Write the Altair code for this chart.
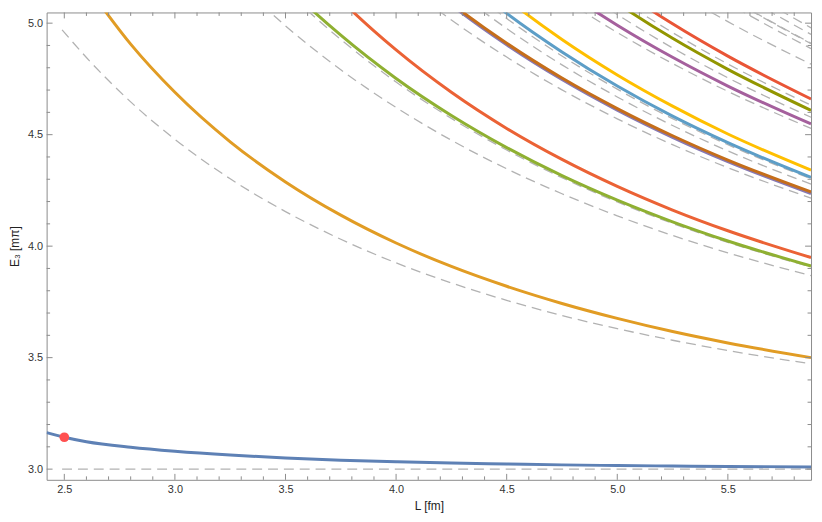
import altair as alt
import pandas as pd

# ---------------- data ----------------
L_ALL = [2.42, 2.5, 2.6, 2.8, 3.0, 3.25, 3.5, 3.75, 4.0, 4.25, 4.5, 4.75, 5.0, 5.25, 5.5, 5.876]

# interacting (solid) levels, each listed from its first L in L_ALL
S_GROUND = [3.164, 3.143, 3.123, 3.098, 3.080, 3.063, 3.050, 3.040, 3.033, 3.027, 3.023, 3.019, 3.016, 3.014, 3.012, 3.010]
S_ORANGE = [5.169, 4.906, 4.690, 4.468, 4.288, 4.139, 4.014, 3.909, 3.820, 3.743, 3.676, 3.617, 3.566, 3.500]
S_GREEN = [5.441, 5.172, 4.946, 4.752, 4.586, 4.442, 4.316, 4.206, 4.109, 4.023, 3.911]
S_RED = [5.373, 5.104, 4.880, 4.690, 4.528, 4.389, 4.268, 4.162, 4.069, 3.949]
S_VIOLET = [5.524, 5.286, 5.081, 4.903, 4.747, 4.610, 4.488, 4.379, 4.236]
S_BROWN = [5.531, 5.293, 5.088, 4.910, 4.754, 4.617, 4.495, 4.386, 4.243]
S_SKY = [5.473, 5.243, 5.044, 4.871, 4.718, 4.583, 4.464, 4.308]
S_YELLOW = [5.558, 5.317, 5.109, 4.927, 4.768, 4.628, 4.503, 4.341]
S_PLUM = [5.335, 5.153, 4.991, 4.847, 4.718, 4.548]
S_OLIVE = [5.266, 5.089, 4.932, 4.793, 4.609]
S_RED2 = [5.346, 5.161, 4.997, 4.852, 4.660]

SOLID = [
    ("s01", S_GROUND, "#5E81B5"),
    ("s02", S_ORANGE, "#E19C24"),
    ("s03", S_GREEN, "#8FB032"),
    ("s04", S_RED, "#EB6235"),
    ("s05", S_VIOLET, "#8778B3"),
    ("s06", S_BROWN, "#C56E1A"),
    ("s07", S_SKY, "#5D9EC7"),
    ("s08", S_YELLOW, "#FFBF00"),
    ("s09", S_PLUM, "#A5609D"),
    ("s10", S_OLIVE, "#929600"),
    ("s11", S_RED2, "#E95536"),
]

# free (dashed) levels
L_FREE = [2.49, 2.6, 2.8, 3.0, 3.25, 3.5, 3.75, 4.0, 4.25, 4.5, 4.75, 5.0, 5.25, 5.5, 5.876]
F_A_L = [2.49, 5.876]
F_A = [3.0, 3.0]
F_B = [4.970, 4.846, 4.647, 4.479, 4.302, 4.155, 4.031, 3.925, 3.835, 3.757, 3.689, 3.630, 3.578, 3.532, 3.472]
F_C = [5.495, 5.220, 4.988, 4.791, 4.622, 4.475, 4.347, 4.235, 4.136, 4.048, 3.970, 3.868]
F_D = [5.412, 5.149, 4.927, 4.736, 4.573, 4.431, 4.307, 4.198, 4.102, 4.017, 3.906]
F_E = [5.423, 5.204, 5.014, 4.848, 4.701, 4.571, 4.455, 4.352, 4.215]
F_F = [5.518, 5.283, 5.080, 4.902, 4.747, 4.609, 4.488, 4.379, 4.237]
F_G = [5.376, 5.162, 4.976, 4.813, 4.669, 4.541, 4.427, 4.278]
F_H = [5.433, 5.213, 5.021, 4.853, 4.704, 4.572, 4.455, 4.302]
F_I = [5.489, 5.290, 5.115, 4.958, 4.819, 4.694, 4.528]
F_J = [5.398, 5.207, 5.039, 4.889, 4.755, 4.578]
F_K = [5.492, 5.292, 5.115, 4.958, 4.817, 4.632]
F_L = [5.311, 5.151, 5.007, 4.816]
F_M = [5.419, 5.246, 5.091, 4.886]
F_N = [5.450, 5.274, 5.117, 4.908]
F_O = [5.277, 5.119, 4.910]
F_P = [5.327, 5.164, 4.950]
F_Q = [5.365, 5.199, 4.979]
FREE = [F_B, F_C, F_D, F_E, F_F, F_G, F_H, F_I, F_J, F_K, F_L, F_M, F_N, F_O, F_P, F_Q]

DOT_L = [2.5]
DOT_E = [3.143]

X_MAJOR = [2.5, 3.0, 3.5, 4.0, 4.5, 5.0, 5.5]
X_MINOR = [2.6, 2.7, 2.8, 2.9, 3.1, 3.2, 3.3, 3.4, 3.6, 3.7, 3.8, 3.9, 4.1, 4.2, 4.3, 4.4,
           4.6, 4.7, 4.8, 4.9, 5.1, 5.2, 5.3, 5.4, 5.6, 5.7, 5.8]
Y_MAJOR = [3.0, 3.5, 4.0, 4.5, 5.0]
Y_MINOR = [3.1, 3.2, 3.3, 3.4, 3.6, 3.7, 3.8, 3.9, 4.1, 4.2, 4.3, 4.4, 4.6, 4.7, 4.8, 4.9]

X_DOMAIN = [2.42, 5.876]
Y_DOMAIN = [2.952, 5.048]

# ---------------- chart ----------------
W, H = 772, 472
FRAME = "#8c8c8c"

xs = alt.Scale(domain=X_DOMAIN, nice=False, zero=False)
ys = alt.Scale(domain=Y_DOMAIN, nice=False, zero=False)

x_axis = alt.Axis(values=X_MAJOR, format=".1f", ticks=False, domain=False, grid=False,
                  labelPadding=4, title="L [fm]", titlePadding=6)
y_axis = alt.Axis(values=Y_MAJOR, format=".1f", ticks=False, domain=False, grid=False,
                  labelPadding=4, title="E₃ [mπ]", titlePadding=6)


def tail(values):
    return L_ALL[len(L_ALL) - len(values):]


rows = []
for i, vals in enumerate(FREE):
    ls = L_FREE[len(L_FREE) - len(vals):]
    for l, e in zip(ls, vals):
        rows.append({"curve": f"f{i:02d}", "L": l, "E": e})
for l, e in zip(F_A_L, F_A):
    rows.append({"curve": "f99", "L": l, "E": e})
free_df = pd.DataFrame(rows)

dashed = alt.Chart(free_df).mark_line(
    color="#b2b2b2", strokeWidth=1.3, strokeDash=[10, 6], interpolate="monotone", clip=True
).encode(
    x=alt.X("L:Q", scale=xs, axis=x_axis),
    y=alt.Y("E:Q", scale=ys, axis=y_axis),
    detail="curve:N",
)

layers = [dashed]
for name, vals, col in SOLID:
    df = pd.DataFrame({"L": tail(vals), "E": vals})
    layers.append(
        alt.Chart(df).mark_line(color=col, strokeWidth=3, interpolate="monotone", clip=True).encode(
            x=alt.X("L:Q", scale=xs), y=alt.Y("E:Q", scale=ys)
        )
    )

dot = alt.Chart(pd.DataFrame({"L": DOT_L, "E": DOT_E})).mark_circle(
    color="#FF5050", opacity=1, size=95
).encode(x=alt.X("L:Q", scale=xs), y=alt.Y("E:Q", scale=ys))
layers.append(dot)


def xticks(vals, length):
    d = pd.DataFrame({"t": vals})
    b = alt.Chart(d).mark_rule(color=FRAME, strokeWidth=1).encode(
        x=alt.X("t:Q", scale=xs), y=alt.value(H), y2=alt.value(H - length))
    t = alt.Chart(d).mark_rule(color=FRAME, strokeWidth=1).encode(
        x=alt.X("t:Q", scale=xs), y=alt.value(0), y2=alt.value(length))
    return [b, t]


def yticks(vals, length):
    d = pd.DataFrame({"t": vals})
    l = alt.Chart(d).mark_rule(color=FRAME, strokeWidth=1).encode(
        y=alt.Y("t:Q", scale=ys), x=alt.value(0), x2=alt.value(length))
    r = alt.Chart(d).mark_rule(color=FRAME, strokeWidth=1).encode(
        y=alt.Y("t:Q", scale=ys), x=alt.value(W), x2=alt.value(W - length))
    return [l, r]


layers += xticks(X_MAJOR, 6) + xticks(X_MINOR, 3.5) + yticks(Y_MAJOR, 6) + yticks(Y_MINOR, 3.5)

chart = alt.layer(*layers).properties(
    width=W, height=H, padding={"left": 0, "top": 1, "right": 2, "bottom": 0}
).configure_view(
    stroke=FRAME, strokeWidth=1
).configure_axis(
    labelFont="Liberation Sans", labelFontSize=11, labelColor="#333333",
    titleFont="Liberation Sans", titleFontSize=12, titleColor="#222222", titleFontWeight="normal",
)

chart.save("out.html", embed_options={"renderer": "svg", "actions": False})
